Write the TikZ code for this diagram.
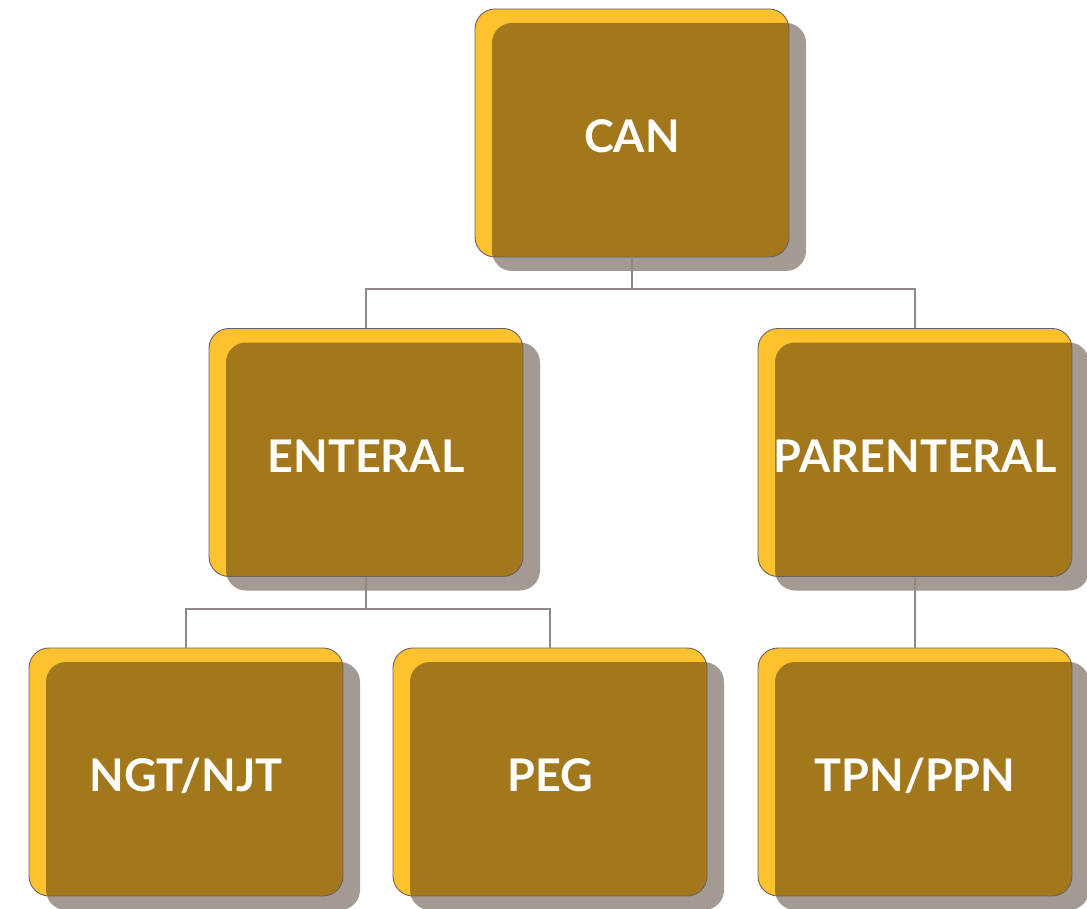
\documentclass[tikz,border=0pt]{standalone}
\usepackage{fontspec}
\setmainfont{Lato}
\usetikzlibrary{shadows}
\definecolor{yel}{HTML}{FDC22D}
\definecolor{brn}{HTML}{A3781C}
\definecolor{shd}{HTML}{A39A94}
\definecolor{edge}{HTML}{6B6060}
\definecolor{conn}{HTML}{938888}
\newcommand{\lbl}[1]{\raisebox{-3.5pt}[\height][\depth]{#1}}
\tikzset{
  box/.style={draw=edge, line width=0.9pt, fill=yel, rounded corners=20pt,
    minimum width=314pt, minimum height=248pt, inner sep=0pt,
    text=white, font=\bfseries\fontsize{45}{54}\selectfont,
    drop shadow={shadow xshift=17pt, shadow yshift=-14pt, fill=shd, opacity=1, draw=none},
    path picture={\fill[brn, rounded corners=20pt]
      ([shift={(17pt,-14pt)}]path picture bounding box.north west) rectangle
      ([shift={(17pt,-14pt)}]path picture bounding box.south east);}},
  link/.style={draw=conn, line width=1.1pt}
}
\begin{document}
\begin{tikzpicture}[x=1pt,y=-1pt]
\useasboundingbox (0,0) rectangle (1087,909);
\node[box] (can) at (632,133) {\lbl{CAN}};
\node[box] (ent) at (366,452.5) {\lbl{ENTERAL}};
\node[box] (par) at (915,452.5) {\lbl{PARENTERAL}};
\node[box] (ngt) at (186,772) {\lbl{NGT/NJT}};
\node[box] (peg) at (550,772) {\lbl{PEG}};
\node[box] (tpn) at (915,772) {\lbl{TPN/PPN}};
\coordinate (j1) at (632,289);
\coordinate (j2) at (366,609);
\draw[link] (can.south) -- (j1);
\draw[link] (j1) -| (ent.north);
\draw[link] (j1) -| (par.north);
\draw[link] (ent.south) -- (j2);
\draw[link] (j2) -| (ngt.north);
\draw[link] (j2) -| (peg.north);
\draw[link] (par.south) -- (tpn.north);
\end{tikzpicture}
\end{document}
